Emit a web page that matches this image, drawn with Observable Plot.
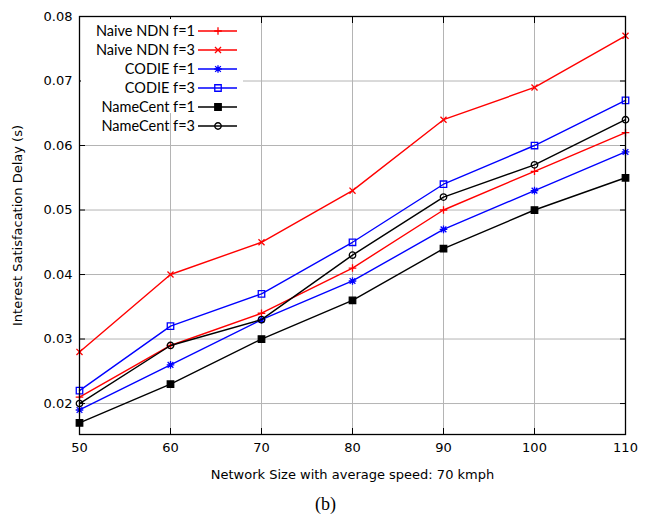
<!DOCTYPE html>
<html><head><meta charset="utf-8">
<script src="https://cdn.jsdelivr.net/npm/d3@7"></script>
<script src="https://cdn.jsdelivr.net/npm/@observablehq/plot@0.6"></script>
<style>
body{margin:0;background:#fff;width:651px;height:521px;overflow:hidden;font-family:"DejaVu Sans",sans-serif}
#wrap{position:relative;width:651px;height:488px}
#legend{position:absolute;left:0;top:0}
#cap{text-align:center;font-family:"Liberation Serif",serif;font-size:18px;line-height:20px;padding-top:6px;color:#000}
</style></head>
<body><div id="wrap"></div><div id="cap">(b)</div>
<script>
// ---- data ----
const sizes = [50, 60, 70, 80, 90, 100, 110];
const naiveF1 = [0.021, 0.029, 0.034, 0.041, 0.050, 0.056, 0.062];
const naiveF3 = [0.028, 0.040, 0.045, 0.053, 0.064, 0.069, 0.077];
const codieF1 = [0.019, 0.026, 0.033, 0.039, 0.047, 0.053, 0.059];
const codieF3 = [0.022, 0.032, 0.037, 0.045, 0.054, 0.060, 0.067];
const nameF1  = [0.017, 0.023, 0.030, 0.036, 0.044, 0.050, 0.055];
const nameF3  = [0.020, 0.029, 0.033, 0.043, 0.052, 0.057, 0.064];
const seriesNames = ["Naive NDN f=1", "Naive NDN f=3", "CODIE f=1", "CODIE f=3", "NameCent f=1", "NameCent f=3"];
const yTicks = [0.02, 0.03, 0.04, 0.05, 0.06, 0.07, 0.08];
const xTicks = sizes;
const xLabel = "Network Size with average speed: 70 kmph";
const yLabel = "Interest Satisfacation Delay (s)";

// ---- styles ----
const values = [naiveF1, naiveF3, codieF1, codieF3, nameF1, nameF3];
const colors = ["#ff0000", "#ff0000", "#0000ff", "#0000ff", "#000000", "#000000"];
const rOf = s => Math.sqrt(s / Math.PI);
const symPlus = {draw(c, s){const r = rOf(s); c.moveTo(-r,0); c.lineTo(r,0); c.moveTo(0,-r); c.lineTo(0,r);}};
const symTimes = {draw(c, s){const r = rOf(s)*0.8; c.moveTo(-r,-r); c.lineTo(r,r); c.moveTo(-r,r); c.lineTo(r,-r);}};
const symStar = {draw(c, s){const r = rOf(s); const q = r*0.75; c.moveTo(-r,0); c.lineTo(r,0); c.moveTo(0,-r); c.lineTo(0,r); c.moveTo(-q,-q); c.lineTo(q,q); c.moveTo(-q,q); c.lineTo(q,-q);}};
const symSquare = {draw(c, s){const r = rOf(s)*0.85; c.rect(-r,-r,2*r,2*r);}};
const symCircle = {draw(c, s){const r = rOf(s)*0.85; c.moveTo(r,0); c.arc(0,0,r,0,2*Math.PI);}};
const symbols = [symPlus, symTimes, symStar, symSquare, symSquare, symCircle];
const fills = ["none", "none", "none", "none", "#000000", "none"];
const mr = 3.8;

const data = seriesNames.map((name, i) => sizes.map((x, j) => ({name, x, y: values[i][j]})));

const marks = [
  Plot.ruleX(xTicks.slice(1, -1), {stroke: "#b4b4b4", strokeWidth: 1}),
  Plot.ruleY(yTicks.slice(0, -1), {stroke: "#b4b4b4", strokeWidth: 1}),
  Plot.axisX({ticks: xTicks, tickSize: 0, tickPadding: 8, tickFormat: d => String(d), label: xLabel, labelAnchor: "center", labelArrow: "none", labelOffset: 44}),
  Plot.axisY({ticks: yTicks, tickSize: 0, tickPadding: 7, tickFormat: d3.format(".2f"), label: yLabel, labelAnchor: "center", labelArrow: "none", labelOffset: 67}),
  Plot.axisX({ticks: xTicks, anchor: "bottom", tickSize: -6, tickFormat: () => "", label: null}),
  Plot.axisX({ticks: xTicks, anchor: "top", tickSize: -6, tickFormat: () => "", label: null}),
  Plot.axisY({ticks: yTicks, anchor: "left", tickSize: -6, tickFormat: () => "", label: null}),
  Plot.axisY({ticks: yTicks, anchor: "right", tickSize: -6, tickFormat: () => "", label: null})
];
data.forEach((d, i) => {
  marks.push(Plot.line(d, {x: "x", y: "y", stroke: colors[i], strokeWidth: 1.4}));
  marks.push(Plot.dot(d, {x: "x", y: "y", symbol: symbols[i], r: mr, stroke: colors[i], fill: fills[i], strokeWidth: 1.3}));
});
marks.push(Plot.frame({stroke: "#000", strokeWidth: 1.3}));

const chart = Plot.plot({
  width: 651, height: 488,
  marginLeft: 79, marginRight: 26, marginTop: 16, marginBottom: 54,
  x: {domain: [50, 110]},
  y: {domain: [0.0152, 0.08]},
  style: {fontFamily: "DejaVu Sans", fontSize: "13px", color: "#000", background: "#fff"},
  marks
});
document.getElementById("wrap").appendChild(chart);

// ---- legend overlay ----
const leg = d3.select("#wrap").append("svg").attr("id", "legend").attr("width", 260).attr("height", 140);
leg.append("rect").attr("x", 81).attr("y", 19).attr("width", 162).attr("height", 94).attr("fill", "#fff");
seriesNames.forEach((name, i) => {
  const y = 31 + 19 * i;
  leg.append("text").attr("x", 195).attr("y", y).attr("dy", "0.35em").attr("text-anchor", "end")
    .attr("font-family", "Lato").attr("font-size", "14.5px").attr("fill", "#000").text(name);
  leg.append("line").attr("x1", 198).attr("x2", 237).attr("y1", y).attr("y2", y).attr("stroke", colors[i]).attr("stroke-width", 1.4);
  leg.append("path").attr("transform", `translate(218,${y})`).attr("d", d3.symbol(symbols[i], Math.PI * mr * mr)())
    .attr("stroke", colors[i]).attr("fill", fills[i]).attr("stroke-width", 1.3);
});
</script>
</body></html>
